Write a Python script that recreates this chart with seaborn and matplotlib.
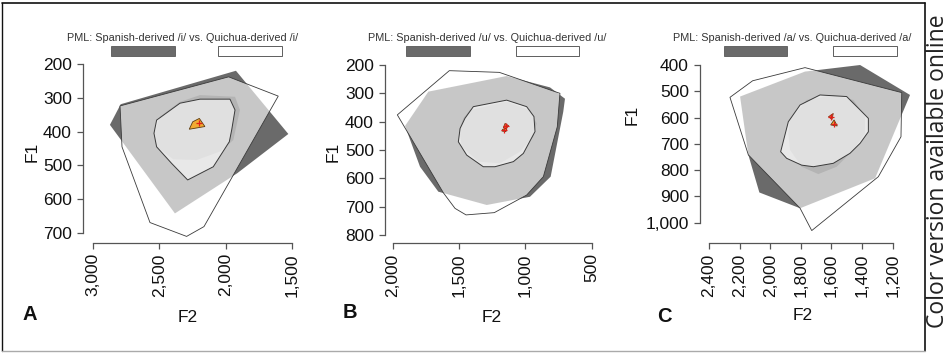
import matplotlib
matplotlib.use("Agg")
import matplotlib.pyplot as plt
import seaborn as sns
import pandas as pd
from matplotlib.ticker import FuncFormatter
from matplotlib.lines import Line2D
from matplotlib.patches import Rectangle

# ---------------- data (F2 / F1 in Hz) ----------------
# Panel A  /i/
A_SPA_HULL_F2 = [2872, 2791, 1922, 1527, 1912, 2382]
A_SPA_HULL_F1 = [380, 319, 220, 407, 523, 642]
A_QUI_HULL_F2 = [2796, 2781, 2570, 2294, 2163, 1603, 1977]
A_QUI_HULL_F1 = [324, 445, 669, 710, 681, 295, 238]
A_SPA_BAG_F2 = [2344, 2193, 1929, 1892, 1942, 2042, 2218, 2395, 2520, 2540, 2495]
A_SPA_BAG_F1 = [312, 292, 297, 336, 425, 459, 484, 482, 445, 405, 356]
A_QUI_BAG_F2 = [2520, 2344, 2193, 1967, 1929, 1954, 1972, 2093, 2286, 2407, 2520, 2540]
A_QUI_BAG_F1 = [366, 316, 304, 304, 336, 395, 430, 504, 543, 494, 445, 405]
A_SPA_CTR_F2 = []
A_SPA_CTR_F1 = []
A_QUI_CTR_F2 = [2274, 2248, 2198, 2156]
A_QUI_CTR_F1 = [393, 371, 361, 385]
A_MED_F2 = [2198]
A_MED_F1 = [375]

# Panel B  /u/
B_SPA_HULL_F2 = [1907, 1731, 1141, 814, 701, 714, 809, 965, 1291, 1656, 1794]
B_SPA_HULL_F1 = [415, 294, 239, 279, 319, 365, 594, 665, 694, 647, 559]
B_QUI_HULL_F2 = [1965, 1573, 1196, 739, 759, 864, 990, 1234, 1447, 1530, 1618]
B_QUI_HULL_F1 = [376, 220, 226, 300, 418, 594, 659, 721, 729, 706, 651]
B_SPA_BAG_F2 = [1417, 1141, 965, 915, 940, 1040, 1191, 1354, 1480, 1497, 1467]
B_SPA_BAG_F1 = [359, 329, 359, 406, 453, 506, 547, 541, 488, 429, 388]
B_QUI_BAG_F2 = [1392, 1141, 990, 935, 927, 1015, 1090, 1229, 1317, 1442, 1505, 1492, 1455]
B_QUI_BAG_F1 = [347, 324, 347, 382, 435, 512, 541, 559, 559, 518, 471, 424, 388]
B_SPA_CTR_F2 = [1153, 1126, 1146, 1166]
B_SPA_CTR_F1 = [406, 414, 426, 421]
B_QUI_CTR_F2 = [1171, 1141, 1146, 1176]
B_QUI_CTR_F1 = [427, 424, 435, 433]
B_MED_F2 = [1148, 1160]
B_MED_F1 = [414, 430]

# Panel C  /a/
C_SPA_HULL_F2 = [2197, 1773, 1413, 1087, 1315, 1805, 2071, 2143]
C_SPA_HULL_F1 = [520, 425, 400, 514, 831, 945, 885, 742]
C_QUI_HULL_F2 = [2263, 2115, 1773, 1141, 1146, 1294, 1729, 1805, 2143]
C_QUI_HULL_F1 = [523, 460, 410, 505, 673, 825, 1030, 945, 742]
C_SPA_BAG_F2 = [1871, 1762, 1588, 1457, 1381, 1381, 1457, 1566, 1686, 1795, 1871, 1882]
C_SPA_BAG_F1 = [609, 533, 514, 533, 597, 660, 723, 787, 815, 787, 723, 660]
C_QUI_BAG_F2 = [1932, 1882, 1805, 1675, 1501, 1413, 1359, 1359, 1413, 1479, 1588, 1718, 1795, 1893]
C_QUI_BAG_F1 = [730, 616, 552, 514, 520, 571, 603, 654, 698, 736, 774, 787, 781, 755]
C_SPA_CTR_F2 = [1620, 1588, 1596]
C_SPA_CTR_F1 = [597, 584, 607]
C_QUI_CTR_F2 = [1605, 1583, 1562]
C_QUI_CTR_F1 = [628, 609, 632]
C_MED_F2 = [1600, 1584]
C_MED_F1 = [596, 623]

A_XTICKS = [3000, 2500, 2000, 1500]
A_YTICKS = [200, 300, 400, 500, 600, 700]
B_XTICKS = [2000, 1500, 1000, 500]
B_YTICKS = [200, 300, 400, 500, 600, 700, 800]
C_XTICKS = [2400, 2200, 2000, 1800, 1600, 1400, 1200]
C_YTICKS = [400, 500, 600, 700, 800, 900, 1000]

VOWELS = ["/i/", "/u/", "/a/"]
LETTERS = ["A", "B", "C"]

# ---------------- style ----------------
sns.set_theme(style="ticks")
plt.rcParams["font.family"] = ["Liberation Sans", "DejaVu Sans"]

W, H = 945, 353
fig = plt.figure(figsize=(W / 100, H / 100), dpi=100)


def fx(x):
    return x / W


def fy(y):
    return 1 - y / H


SPA_DARK = "#6a6a6a"
SPA_BAG = "#b4b4b4"
EDGE = "#3a3a3a"
AXC = "#555555"

panels = [
    dict(box=(83, 302, 57, 243), xlim=(3075, 1424), ylim=(729.5, 179.3),
         xt=A_XTICKS, yt=A_YTICKS,
         sh=(A_SPA_HULL_F2, A_SPA_HULL_F1), qh=(A_QUI_HULL_F2, A_QUI_HULL_F1),
         sb=(A_SPA_BAG_F2, A_SPA_BAG_F1), qb=(A_QUI_BAG_F2, A_QUI_BAG_F1),
         sc=(A_SPA_CTR_F2, A_SPA_CTR_F1), qc=(A_QUI_CTR_F2, A_QUI_CTR_F1),
         med=(A_MED_F2, A_MED_F1),
         title_x=183, box1=(111, 175), box2=(218, 282),
         f1=(32, 152), f2=(188, 318), let=(30, 314)),
    dict(box=(385, 600, 58, 243.3), xlim=(2058, 437), ylim=(829.2, 175.3),
         xt=B_XTICKS, yt=B_YTICKS,
         sh=(B_SPA_HULL_F2, B_SPA_HULL_F1), qh=(B_QUI_HULL_F2, B_QUI_HULL_F1),
         sb=(B_SPA_BAG_F2, B_SPA_BAG_F1), qb=(B_QUI_BAG_F2, B_QUI_BAG_F1),
         sc=(B_SPA_CTR_F2, B_SPA_CTR_F1), qc=(B_QUI_CTR_F2, B_QUI_CTR_F1),
         med=(B_MED_F2, B_MED_F1),
         title_x=487, box1=(406, 470), box2=(516, 579),
         f1=(333, 152), f2=(492, 317), let=(350, 312)),
    dict(box=(700, 900, 58.7, 243.3), xlim=(2458.8, 1152.4), ylim=(1078.4, 376),
         xt=C_XTICKS, yt=C_YTICKS,
         sh=(C_SPA_HULL_F2, C_SPA_HULL_F1), qh=(C_QUI_HULL_F2, C_QUI_HULL_F1),
         sb=(C_SPA_BAG_F2, C_SPA_BAG_F1), qb=(C_QUI_BAG_F2, C_QUI_BAG_F1),
         sc=(C_SPA_CTR_F2, C_SPA_CTR_F1), qc=(C_QUI_CTR_F2, C_QUI_CTR_F1),
         med=(C_MED_F2, C_MED_F1),
         title_x=792, box1=(724, 787), box2=(833, 897),
         f1=(632, 115), f2=(803, 316), let=(664, 316)),
]

for i, p in enumerate(panels):
    l, r, t, b = p["box"]
    ax = fig.add_axes([fx(l), fy(b), (r - l) / W, (b - t) / H])
    ax.set_facecolor("none")

    # hulls
    ax.fill(*p["sh"], facecolor=SPA_DARK, edgecolor="none", zorder=1, clip_on=False)
    ax.fill(*p["qh"], facecolor=(1, 1, 1, 0.63), edgecolor=EDGE, linewidth=0.6,
            zorder=2, clip_on=False)
    # bags
    ax.fill(*p["sb"], facecolor=SPA_BAG, edgecolor="none", zorder=3, clip_on=False)
    ax.fill(*p["qb"], facecolor=(1, 1, 1, 0.6), edgecolor=EDGE, linewidth=0.7,
            zorder=4, clip_on=False)
    # centres
    if len(p["sc"][0]):
        ax.fill(*p["sc"], facecolor="#e8552b", edgecolor="#7a3010", linewidth=0.5,
                zorder=5, clip_on=False)
    ax.fill(*p["qc"], facecolor="#f2aa32", edgecolor="#5a3a10", linewidth=0.6,
            zorder=6, clip_on=False)
    med = pd.DataFrame({"F2": p["med"][0], "F1": p["med"][1]})
    sns.scatterplot(data=med, x="F2", y="F1", marker="+", color="#e0201a",
                    s=14, linewidth=0.9, ax=ax, zorder=7, legend=False)

    ax.set_xlim(*p["xlim"])
    ax.set_ylim(*p["ylim"])
    ax.set_xticks(p["xt"])
    ax.set_yticks(p["yt"])
    ax.xaxis.set_major_formatter(FuncFormatter(lambda v, pos: f"{v:,.0f}"))
    ax.yaxis.set_major_formatter(FuncFormatter(lambda v, pos: f"{v:,.0f}"))
    ax.set_xlabel("")
    ax.set_ylabel("")
    for s in ["top", "right"]:
        ax.spines[s].set_visible(False)
    for s in ["left", "bottom"]:
        ax.spines[s].set_visible(True)
        ax.spines[s].set_color(AXC)
        ax.spines[s].set_linewidth(0.9)
        ax.spines[s].set_zorder(10)
    ax.spines["left"].set_bounds(min(p["yt"]), max(p["yt"]))
    ax.spines["bottom"].set_bounds(min(p["xt"]), max(p["xt"]))
    ax.tick_params(axis="both", which="major", direction="out", length=4, width=0.9,
                   color=AXC, labelsize=12.5, labelcolor="#111111",
                   bottom=True, left=True, top=False, right=False)
    ax.tick_params(axis="y", pad=4)
    ax.tick_params(axis="x", pad=3.3, labelrotation=90)
    ax.grid(False)

    # axis labels and panel letter
    fig.text(fx(p["f1"][0]), fy(p["f1"][1]), "F1", rotation=90, ha="center",
             va="center", fontsize=12.5, color="#111111")
    fig.text(fx(p["f2"][0]), fy(p["f2"][1]), "F2", ha="center", va="center",
             fontsize=12.5, color="#111111")
    fig.text(fx(p["let"][0]), fy(p["let"][1]), LETTERS[i], ha="center",
             va="center", fontsize=14.5, fontweight="bold", color="#111111")

    # legend
    v = VOWELS[i]
    fig.text(fx(p["title_x"]), fy(38), f"PML: Spanish-derived {v} vs. Quichua-derived {v}",
             ha="center", va="center", fontsize=7.8, color="#333333")
    b1 = p["box1"]
    b2 = p["box2"]
    fig.patches.append(Rectangle((fx(b1[0]), fy(55.5)), (b1[1] - b1[0]) / W, 9.5 / H,
                                 transform=fig.transFigure, facecolor=SPA_DARK,
                                 edgecolor="#444444", linewidth=0.5))
    fig.patches.append(Rectangle((fx(b2[0]), fy(55.5)), (b2[1] - b2[0]) / W, 9.5 / H,
                                 transform=fig.transFigure, facecolor="white",
                                 edgecolor="#444444", linewidth=0.6))

# frame
fig.lines.append(Line2D([fx(2.5), fx(925)], [fy(2.5), fy(2.5)], transform=fig.transFigure,
                        color="#111111", linewidth=1.2))
fig.lines.append(Line2D([fx(2.5), fx(2.5)], [fy(2.5), fy(351)], transform=fig.transFigure,
                        color="#111111", linewidth=1.0))
fig.lines.append(Line2D([fx(925), fx(925)], [fy(2.5), fy(351)], transform=fig.transFigure,
                        color="#111111", linewidth=1.2))
fig.lines.append(Line2D([fx(2.5), fx(925)], [fy(351), fy(351)], transform=fig.transFigure,
                        color="#aaaaaa", linewidth=1.0))

fig.text(fx(944), fy(171), "Color version available online", rotation=90,
         rotation_mode="anchor", ha="center", va="baseline", fontsize=16.5,
         color="#222222", family=["Open Sans", "DejaVu Sans"])

fig.savefig("out.png", dpi=100)
